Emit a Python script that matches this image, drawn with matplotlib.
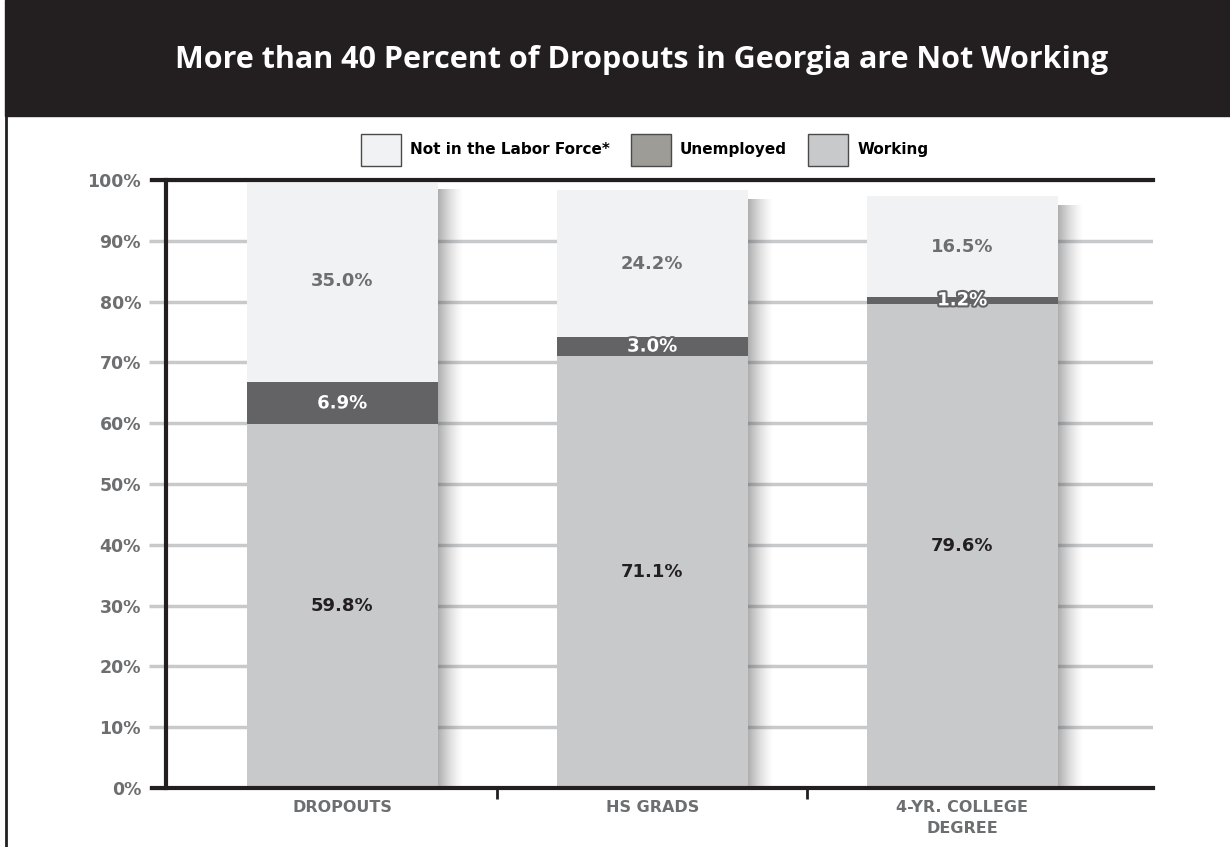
import numpy as np
import matplotlib
matplotlib.use('Agg')
import matplotlib.pyplot as plt
import matplotlib.patheffects as pe
from matplotlib.patches import Patch, Rectangle
from matplotlib.lines import Line2D

# employment status by education level (percent)
categories = ['DROPOUTS', 'HS GRADS', '4-YR. COLLEGE\nDEGREE']
working = [59.8, 71.1, 79.6]
unemployed = [6.9, 3.0, 1.2]
not_in_labor = [35.0, 24.2, 16.5]
series_names = ['Not in the Labor Force*', 'Unemployed', 'Working']
yticks = list(range(0, 101, 10))

col_nilf = '#f1f2f3'
col_unemp = '#636365'
col_unemp_key = '#9d9c97'
col_work = '#c8c9cb'
grey_txt = '#6d6e70'
dark = '#231f20'

fig = plt.figure(figsize=(12.3, 8.47), dpi=100)

# dark title band + left border
fig.patches.append(Rectangle((0.004, 0.863), 0.996, 0.137, transform=fig.transFigure,
                             color=dark, zorder=0))
fig.lines.append(Line2D([0.0045, 0.0045], [0, 1], transform=fig.transFigure, color=dark, lw=2))
fig.text(0.522, 0.929, 'More than 40 Percent of Dropouts in Georgia are Not Working',
         color='white', fontsize=22, fontweight='bold', ha='center', va='center',
         family='Open Sans')

ax = fig.add_axes([0.135, 0.0697, 0.8025, 0.7178])
x = np.arange(len(categories))
w = 0.616
work = np.array(working)
unemp = np.array(unemployed)
nilf = np.array(not_in_labor)
tops = work + unemp + nilf

# soft shadow on the right side of each bar
grad = np.zeros((1, 64, 4))
grad[..., :3] = 0.28
grad[..., 3] = np.linspace(0.6, 0, 64) ** 1.4
for xi, t in zip(x, tops):
    ax.imshow(grad, extent=(xi + w / 2 - 0.005, xi + w / 2 + 0.085, 0, min(t, 100) - 1.5),
              aspect='auto', zorder=1.5, interpolation='bilinear')

ax.bar(x, work, w, color=col_work, zorder=2)
ax.bar(x, unemp, w, bottom=work, color=col_unemp, zorder=2)
ax.bar(x, nilf, w, bottom=work + unemp, color=col_nilf, zorder=2)

# segment labels
halo = [pe.withStroke(linewidth=3, foreground=col_unemp)]
for xi, a, b, c in zip(x, work, unemp, nilf):
    ax.text(xi, a / 2, f'{a:.1f}%', ha='center', va='center', color=dark,
            fontsize=13, fontweight='bold', zorder=3)
    ax.text(xi, a + b / 2, f'{b:.1f}%', ha='center', va='center', color='white',
            fontsize=13, fontweight='bold', zorder=3, path_effects=halo)
    ax.text(xi, (a + b + min(a + b + c, 100)) / 2, f'{c:.1f}%', ha='center', va='center',
            color=grey_txt, fontsize=13, fontweight='bold', zorder=3)

ax.set_xlim(-0.568, 2.616)
ax.set_ylim(0, 100)

ax.set_yticks(yticks)
ax.set_yticklabels([f'{v}%' for v in yticks], color=grey_txt, fontsize=12.5, fontweight='bold')
ax.tick_params(axis='y', length=12, width=2.5, color=col_work, pad=6)
ax.yaxis.grid(True, color=col_work, lw=2.5)
ax.set_axisbelow(True)

ax.set_xticks(x)
ax.set_xticklabels(categories, color=grey_txt, fontsize=11.5, fontweight='bold', linespacing=1.5)
ax.tick_params(axis='x', length=0, pad=9)
ax.set_xticks([0.5, 1.5], minor=True)
ax.tick_params(axis='x', which='minor', length=8, width=2, color=dark)

for s in ['top', 'right', 'bottom']:
    ax.spines[s].set_visible(False)
ax.spines['left'].set_color(dark)
ax.spines['left'].set_linewidth(3)

# heavy lines at 0% and 100%
yx = ax.get_yaxis_transform()
for yv in (0, 100):
    ax.plot([-0.0142, 1], [yv, yv], transform=yx, color=dark, lw=3, clip_on=False, zorder=4)

handles = [Patch(facecolor=c, edgecolor='#4a4a4a', lw=1)
           for c in (col_nilf, col_unemp_key, col_work)]
ax.legend(handles, series_names, loc='lower center', bbox_to_anchor=(0.485, 1.0),
          ncol=3, frameon=False, handlelength=2.6, handleheight=2.9, handletextpad=0.6,
          columnspacing=1.4, prop={'weight': 'bold', 'size': 11})

fig.savefig('out.png', dpi=100)
